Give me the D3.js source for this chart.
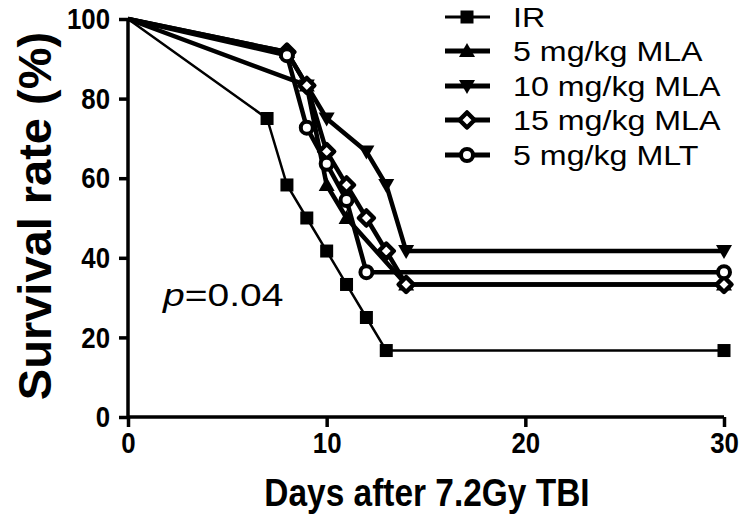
<!DOCTYPE html>
<html><head><meta charset="utf-8">
<script src="https://cdn.jsdelivr.net/npm/d3@7"></script>
<style>
html,body{margin:0;padding:0;background:#fff;}
svg{display:block;}
</style></head>
<body>
<svg id="chart" width="744" height="519"></svg>
<script>
// ---- data ----
const seriesNames = ["IR", "5 mg/kg MLA", "10 mg/kg MLA", "15 mg/kg MLA", "5 mg/kg MLT"];
const irDays   = [0, 7, 8, 9, 10, 11, 12, 13, 30];
const irVals   = [100, 75, 58.3, 50, 41.7, 33.3, 25, 16.7, 16.7];
const mla5Days = [0, 8, 9, 10, 11, 14, 30];
const mla5Vals = [100, 91.7, 83.3, 58.3, 50, 33.3, 33.3];
const mla10Days = [0, 9, 10, 12, 13, 14, 30];
const mla10Vals = [100, 83.3, 75, 66.7, 58.3, 41.7, 41.7];
const mla15Days = [0, 8, 9, 10, 11, 12, 13, 14, 30];
const mla15Vals = [100, 91.7, 83.3, 66.7, 58.3, 50, 41.7, 33.3, 33.3];
const mltDays  = [0, 8, 9, 10, 11, 12, 30];
const mltVals  = [100, 90.9, 72.7, 63.6, 54.5, 36.4, 36.4];
const xTicks = [0, 10, 20, 30];
const yTicks = [0, 20, 40, 60, 80, 100];
const xTitle = "Days after 7.2Gy TBI";
const yTitle = "Survival rate (%)";

const seriesDays = [irDays, mla5Days, mla10Days, mla15Days, mltDays];
const seriesVals = [irVals, mla5Vals, mla10Vals, mla15Vals, mltVals];
const seriesMarker = ["square", "triUp", "triDown", "diamond", "circle"];
const seriesWidth = [2.5, 4.5, 4.5, 4.5, 4.5];

const font = "'Liberation Sans', Arial, sans-serif";

const svg = d3.select("#chart");
const x = d3.scaleLinear().domain([0, 30]).range([128, 724]);
const y = d3.scaleLinear().domain([0, 100]).range([417, 19]);

// squeeze text horizontally to mimic a condensed bold face
function condense(sel, f) {
  sel.each(function () {
    const w = this.getComputedTextLength();
    d3.select(this).attr("textLength", w * f).attr("lengthAdjust", "spacingAndGlyphs");
  });
}

function drawMarker(g, type, cx, cy) {
  if (type === "square") {
    g.append("rect").attr("x", cx - 6.5).attr("y", cy - 6.5).attr("width", 13).attr("height", 13).attr("fill", "#000");
  } else if (type === "triUp") {
    g.append("path").attr("d", `M${cx},${cy-8} L${cx+8},${cy+6} L${cx-8},${cy+6} Z`).attr("fill", "#000");
  } else if (type === "triDown") {
    g.append("path").attr("d", `M${cx},${cy+8} L${cx+8},${cy-6} L${cx-8},${cy-6} Z`).attr("fill", "#000");
  } else if (type === "diamond") {
    g.append("path").attr("d", `M${cx},${cy-7.5} L${cx+7.5},${cy} L${cx},${cy+7.5} L${cx-7.5},${cy} Z`)
      .attr("fill", "#fff").attr("stroke", "#000").attr("stroke-width", 4.5).attr("stroke-linejoin", "round");
  } else if (type === "circle") {
    g.append("circle").attr("cx", cx).attr("cy", cy).attr("r", 6)
      .attr("fill", "#fff").attr("stroke", "#000").attr("stroke-width", 4);
  }
}

// ---- axes ----
const xAxis = d3.axisBottom(x).tickValues(xTicks).tickSize(10).tickPadding(5).tickFormat(d3.format("d"));
const yAxis = d3.axisLeft(y).tickValues(yTicks).tickSize(9).tickPadding(9).tickFormat(d3.format("d"));
const gx = svg.append("g").attr("transform", "translate(0,417)").call(xAxis);
const gy = svg.append("g").attr("transform", "translate(128,0)").call(yAxis);
[gx, gy].forEach(g => {
  g.select(".domain").attr("stroke", "#000").attr("stroke-width", 3.5);
  g.selectAll(".tick line").attr("stroke", "#000").attr("stroke-width", 3.5);
  g.selectAll(".tick text").attr("fill", "#000")
    .style("font-family", font)
    .style("font-weight", "bold").style("font-size", "30px");
  condense(g.selectAll(".tick text"), 0.86);
});
gx.select(".domain").attr("d", "M128,0H724");
gy.select(".domain").attr("d", "M0,19V417");

// ---- series ----
const line = d3.line().x(d => x(d[0])).y(d => y(d[1]));
seriesNames.forEach((name, i) => {
  const pts = seriesDays[i].map((d, j) => [d, seriesVals[i][j]]);
  svg.append("path").datum(pts).attr("d", line).attr("fill", "none")
    .attr("stroke", "#000").attr("stroke-width", seriesWidth[i]).attr("stroke-linejoin", "round");
});
seriesNames.forEach((name, i) => {
  const g = svg.append("g");
  seriesDays[i].forEach((d, j) => {
    if (d === 0) return;
    drawMarker(g, seriesMarker[i], x(d), y(seriesVals[i][j]));
  });
});

// ---- legend ----
const legY = [17, 51, 86, 120, 155];
seriesNames.forEach((name, i) => {
  const g = svg.append("g");
  g.append("line").attr("x1", 445).attr("x2", 490).attr("y1", legY[i]).attr("y2", legY[i])
    .attr("stroke", "#000").attr("stroke-width", i === 0 ? 3 : 5);
  drawMarker(g, seriesMarker[i], 467, legY[i]);
  g.append("text").attr("transform", `translate(513,${legY[i]}) scale(1.15,1)`).attr("dy", "0.36em")
    .style("font-family", font).style("font-size", "28px")
    .text(name);
});

// ---- titles ----
const xt = svg.append("text").attr("x", 427).attr("y", 506).attr("text-anchor", "middle")
  .style("font-family", font).style("font-weight", "bold").style("font-size", "38px")
  .text(xTitle);
condense(xt, 0.88);
svg.append("text").attr("transform", "translate(51,216) rotate(-90)").attr("text-anchor", "middle")
  .style("font-family", font).style("font-weight", "bold").style("font-size", "47px")
  .text(yTitle);

// ---- p value ----
const pt = svg.append("text").attr("transform", "translate(163,306) scale(1.22,1)")
  .style("font-family", font).style("font-size", "32px");
pt.append("tspan").style("font-style", "italic").text("p");
pt.append("tspan").text("=0.04");
</script>
</body></html>
